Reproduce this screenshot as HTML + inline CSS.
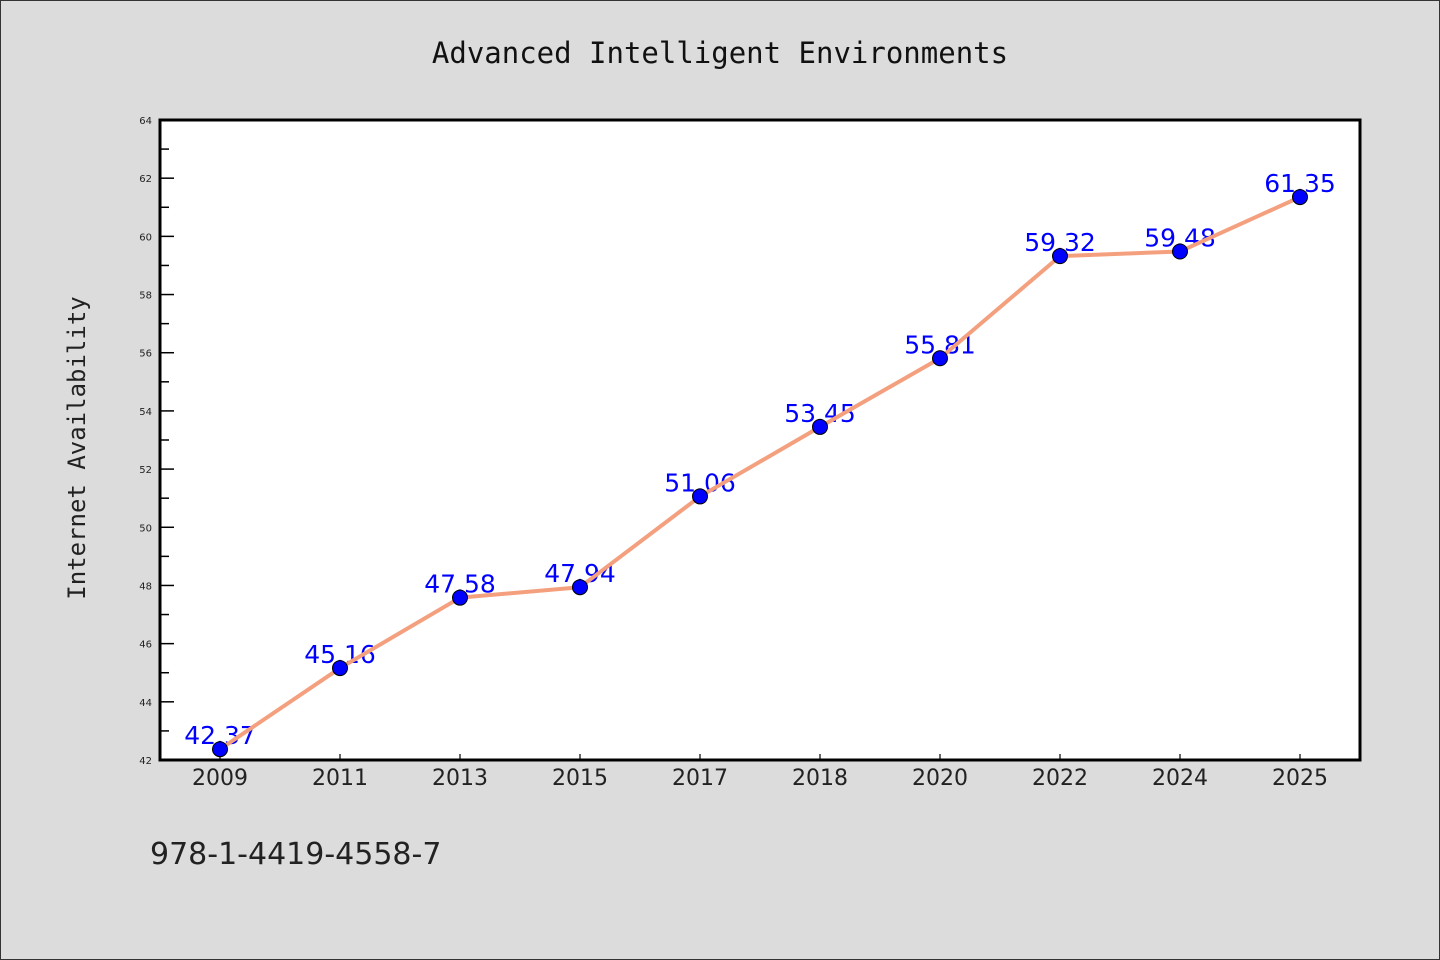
<!DOCTYPE html>
<html><head><meta charset="utf-8"><style>
html,body{margin:0;padding:0;background:#dcdcdc;}
svg{display:block;}
</style></head><body>
<svg width="1440" height="960" xmlns="http://www.w3.org/2000/svg">
<rect x="0.5" y="0.5" width="1439" height="959" fill="#dcdcdc" stroke="#333" stroke-width="1"/>
<text x="720" y="63" text-anchor="middle" font-family="'DejaVu Sans Mono','Liberation Mono',monospace" font-size="29" fill="#111">Advanced Intelligent Environments</text>
<text transform="translate(85,448) rotate(-90)" text-anchor="middle" font-family="'DejaVu Sans Mono','Liberation Mono',monospace" font-size="24" fill="#222">Internet Availability</text>
<text x="150" y="864" font-family="'DejaVu Sans','Liberation Sans',sans-serif" font-size="30" fill="#222">978-1-4419-4558-7</text>
<rect x="160" y="120" width="1200" height="640" fill="#fff"/>
<g id="ticks"></g>
<g id="labels"></g>
<g id="series"></g>
<rect x="160" y="120" width="1200" height="640" fill="none" stroke="#000" stroke-width="3"/>
</svg>
<script>
const categories=["2009","2011","2013","2015","2017","2018","2020","2022","2024","2025"];
const values=[42.37,45.16,47.58,47.94,51.06,53.45,55.81,59.32,59.48,61.35];
const valueLabels=["42.37","45.16","47.58","47.94","51.06","53.45","55.81","59.32","59.48","61.35"];
const yTicks=[42,44,46,48,50,52,54,56,58,60,62,64];
const NS="http://www.w3.org/2000/svg";
const X0=160,W=1200,Y0=120,H=640,YMIN=42,YMAX=64;
function xs(i){return X0+W/categories.length*(i+0.5);}
function ys(v){return Y0+H-(v-YMIN)/(YMAX-YMIN)*H;}
function mk(tag,attrs,parent){const e=document.createElementNS(NS,tag);for(const k in attrs)e.setAttribute(k,attrs[k]);parent.appendChild(e);return e;}
const tg=document.getElementById('ticks'),lg=document.getElementById('labels'),sg=document.getElementById('series');
yTicks.forEach((t,i)=>{
  const y=ys(t);
  const l=mk('line',{x1:X0,x2:X0+14,y1:y,y2:y,stroke:'#000','stroke-width':1.5},tg);
  
  
  const tx=mk('text',{x:X0-8,y:y+4,'text-anchor':'end','font-family':"'DejaVu Sans',sans-serif",'font-size':10,fill:'#222'},tg);
  tx.textContent=t;
  
  
  if(i<yTicks.length-1){
    const m=ys(t+1);
    const ml=mk('line',{x1:X0,x2:X0+9,y1:m,y2:m,stroke:'#000','stroke-width':1.5},tg);
    
    
  }
});
categories.forEach((c,i)=>{
  const x=xs(i);
  const l=mk('line',{x1:x,x2:x,y1:Y0+H,y2:Y0+H-6,stroke:'#000','stroke-width':1.2},tg);
  
  
  const tx=mk('text',{x:x,y:Y0+H+25,'text-anchor':'middle','font-family':"'DejaVu Sans','Liberation Sans',sans-serif",'font-size':22,fill:'#222'},tg);
  tx.textContent=c;
  
  
});
values.forEach((v,i)=>{
  const tx=mk('text',{x:xs(i),y:ys(v)-5,'text-anchor':'middle','font-family':"'DejaVu Sans','Liberation Sans',sans-serif",'font-size':25,fill:'#0000ff'},lg);
  tx.textContent=valueLabels[i];
  
  
});
const pts=values.map((v,i)=>xs(i)+','+ys(v)).join(' ');
const pl=mk('polyline',{points:pts,fill:'none',stroke:'#f4a07e','stroke-width':4,'stroke-linejoin':'round'},sg);


values.forEach((v,i)=>{
  const c=mk('circle',{cx:xs(i),cy:ys(v),r:7.5,fill:'#0000ff',stroke:'#000','stroke-width':1},sg);
  
  
});
</script>
</body></html>
